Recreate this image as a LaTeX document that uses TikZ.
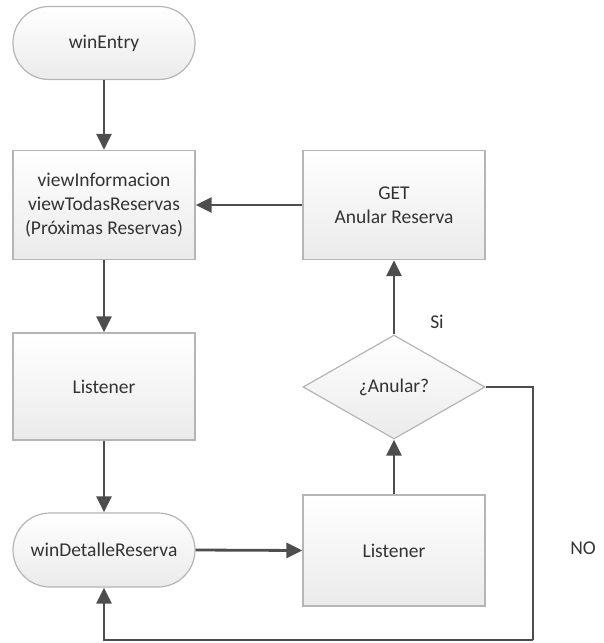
\documentclass[tikz,border=0pt]{standalone}
\usepackage{fontspec}
\setmainfont{Carlito}
\usetikzlibrary{shapes.geometric,arrows.meta}
\definecolor{edgegray}{HTML}{B5B5B5}
\definecolor{linegray}{HTML}{4D4D4D}
\definecolor{txtgray}{HTML}{333333}
\tikzset{
  base/.style={draw=edgegray, line width=1.2pt, top color=white, bottom color=black!8,
    text=txtgray, font=\fontsize{19.5}{24}\selectfont, align=center, inner sep=0pt},
  procbox/.style={base, rectangle, minimum width=182pt, minimum height=109pt},
  pill/.style={base, rectangle, rounded corners=36pt, minimum width=182pt, minimum height=73pt},
  decision/.style={base, diamond, aspect=1.75, minimum width=182pt, minimum height=104pt},
  conn/.style={draw=linegray, line width=2.8pt, -{Triangle[length=16pt,width=15pt]}},
  plainconn/.style={draw=linegray, line width=2.8pt},
  lbl/.style={text=txtgray, font=\fontsize{19.5}{24}\selectfont}
}
\begin{document}
\begin{tikzpicture}[x=1pt,y=-1pt]
\useasboundingbox (0,0) rectangle (603,643);
\node[pill] (entry) at (104,43) {winEntry};
\node[procbox] (view) at (104,205) {viewInformacion\\viewTodasReservas\\(Próximas Reservas)};
\node[procbox] (get) at (394,205) {GET\\Anular Reserva};
\node[procbox, minimum height=107pt] (lis1) at (104,386.5) {Listener};
\node[decision] (dec) at (394,387) {¿Anular?};
\node[pill, minimum height=74pt, rounded corners=37pt] (det) at (104,550) {winDetalleReserva};
\node[procbox, minimum height=111pt] (lis2) at (394,550.5) {Listener};
\coordinate (corner) at (533,640);
\node[lbl] (si) at (437,322) {Si};
\node[lbl] (no) at (583,548) {NO};

\draw[conn] (entry.south) -- (view.north);
\draw[conn] (get.west) -- (view.east);
\draw[conn] (view.south) -- (lis1.north);
\draw[conn] (lis1.south) -- (det.north);
\draw[conn] (det.east) -- (lis2.west);
\draw[conn] (lis2.north) -- (dec.south);
\draw[conn] (dec.north) -- (get.south);
\draw[plainconn] (dec.east) -| (corner);
\draw[conn] (corner) -| (det.south);
\end{tikzpicture}
\end{document}
